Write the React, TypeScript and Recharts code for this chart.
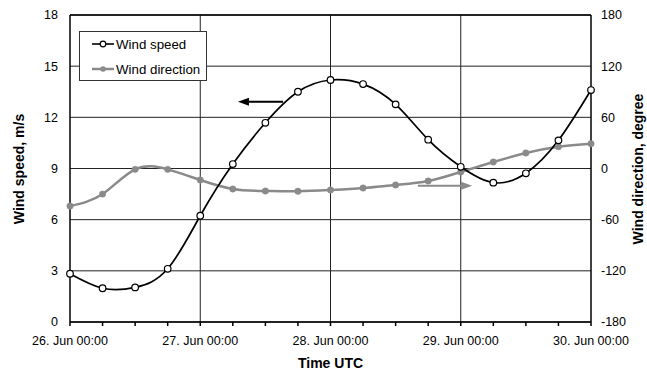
import React from 'react';
import {
  ComposedChart, Line, XAxis, YAxis, CartesianGrid, ReferenceLine, Legend
} from 'recharts';

// hours since 26. Jun 00:00
const hours = [0, 6, 12, 18, 24, 30, 36, 42, 48, 54, 60, 66, 72, 78, 84, 90, 96];
const windSpeed = [2.83, 1.98, 2.03, 3.12, 6.23, 9.26, 11.68, 13.5, 14.19, 13.95, 12.76, 10.69, 9.1, 8.17, 8.72, 10.65, 13.6];
const windDirection = [-44, -30, -1, -1, -13.5, -24, -26.4, -26.7, -25.2, -22.9, -19.3, -14.7, -4.1, 7.6, 18.2, 25.6, 29.1];

const dayTicks = [0, 24, 48, 72, 96];
const dayLabels = ['26. Jun 00:00', '27. Jun 00:00', '28. Jun 00:00', '29. Jun 00:00', '30. Jun 00:00'];
const speedTicks = [0, 3, 6, 9, 12, 15, 18];
const directionTicks = [-180, -120, -60, 0, 60, 120, 180];

const data = hours.map((h, i) => ({ h, speed: windSpeed[i], direction: windDirection[i] }));

const FONT = 'Arial, "Liberation Sans", sans-serif';
const GRAY = '#8a8a8a';

const arrow = (color: string) => (p: any) => {
  const { x1, y1, x2, y2 } = p;
  const dir = Math.sign(x2 - x1) || 1;
  const len = 11;
  return (
    <g>
      <line x1={x1} y1={y1} x2={x2 - dir * len} y2={y2} stroke={color} strokeWidth={2} />
      <polygon
        points={`${x2},${y2} ${x2 - dir * len},${y2 - 4} ${x2 - dir * len},${y2 + 4}`}
        fill={color}
      />
    </g>
  );
};

const LegendBox = () => (
  <div style={{
    position: 'absolute', left: 79, top: 31, width: 126, height: 48,
    border: '1px solid #333', background: '#fff', fontFamily: FONT, fontSize: 13, color: '#000'
  }}>
    <svg width={126} height={48} style={{ position: 'absolute', left: 0, top: 0 }}>
      <line x1={12} y1={12} x2={34} y2={12} stroke="#000" strokeWidth={1.6} />
      <circle cx={23} cy={12} r={2.8} fill="#fff" stroke="#000" strokeWidth={1.2} />
      <line x1={12} y1={37} x2={34} y2={37} stroke={GRAY} strokeWidth={2.5} />
      <circle cx={23} cy={37} r={2.8} fill={GRAY} />
      <text x={36} y={16.5} fontFamily={FONT} fontSize={13.3}>Wind speed</text>
      <text x={36} y={41.5} fontFamily={FONT} fontSize={13.3}>Wind direction</text>
    </svg>
  </div>
);

export default function App() {
  const tickStyle = { fontFamily: FONT, fontSize: 12.5, fill: '#000' };
  return (
    <div style={{ position: 'absolute', left: 0, top: 0, background: '#fff' }}>
      <ComposedChart width={647} height={370} data={data} margin={{ top: 15, right: 0, bottom: 0, left: 0 }}>
        <CartesianGrid yAxisId="speed" vertical={false} stroke="#222" strokeWidth={1} />
        <XAxis
          dataKey="h"
          type="number"
          domain={[0, 96]}
          ticks={hours}
          interval={0}
          height={48}
          tickSize={4}
          tickMargin={10}
          stroke="#000"
          strokeWidth={1.5}
          tick={tickStyle}
          tickFormatter={(v: number) => {
            const i = dayTicks.indexOf(v);
            return i >= 0 ? dayLabels[i] : '';
          }}
          label={{
            content: () => (
              <text x={330.5} y={368} textAnchor="middle" fontFamily={FONT} fontSize={14} fontWeight="bold">Time UTC</text>
            )
          }}
        />
        <YAxis
          yAxisId="speed"
          domain={[0, 18]}
          ticks={speedTicks}
          interval={0}
          width={70}
          tickLine={false}
          tickSize={0}
          tickMargin={12}
          stroke="#000"
          strokeWidth={1.5}
          tick={tickStyle}
          label={{
            content: () => (
              <text x={19} y={169} transform="rotate(-90, 19, 169)" textAnchor="middle" dominantBaseline="central"
                fontFamily={FONT} fontSize={14} fontWeight="bold">Wind speed, m/s</text>
            )
          }}
        />
        <YAxis
          yAxisId="dir"
          orientation="right"
          domain={[-180, 180]}
          ticks={directionTicks}
          interval={0}
          width={56}
          tickLine={false}
          tickSize={0}
          tickMargin={10}
          stroke="#000"
          strokeWidth={1.5}
          tick={tickStyle}
          label={{
            content: () => (
              <text x={638} y={169} transform="rotate(-90, 638, 169)" textAnchor="middle" dominantBaseline="central"
                fontFamily={FONT} fontSize={14} fontWeight="bold">Wind direction, degree</text>
            )
          }}
        />
        {dayTicks.slice(1, 4).map((d) => (
          <ReferenceLine key={d} x={d} yAxisId="speed" stroke="#222" strokeWidth={1} />
        ))}
        <ReferenceLine yAxisId="speed" y={18} stroke="#000" strokeWidth={1.5} />
        <Line
          yAxisId="dir"
          type="natural"
          dataKey="direction"
          stroke={GRAY}
          strokeWidth={2.5}
          dot={{ r: 3.2, fill: GRAY, stroke: GRAY, strokeWidth: 0.5 }}
          isAnimationActive={false}
        />
        <Line
          yAxisId="speed"
          type="natural"
          dataKey="speed"
          stroke="#000"
          strokeWidth={1.7}
          dot={{ r: 3.3, fill: '#fff', stroke: '#000', strokeWidth: 1.2 }}
          isAnimationActive={false}
        />
        <ReferenceLine
          yAxisId="speed"
          segment={[{ x: 39.25, y: 12.91 }, { x: 30.95, y: 12.91 }]}
          shape={arrow('#000')}
        />
        <ReferenceLine
          yAxisId="dir"
          segment={[{ x: 64.1, y: -20.2 }, { x: 74.1, y: -20.2 }]}
          shape={arrow(GRAY)}
        />
        <Legend content={() => <LegendBox />} wrapperStyle={{ position: 'absolute', left: 0, top: 0, width: 0, height: 0 }} />
      </ComposedChart>
    </div>
  );
}
